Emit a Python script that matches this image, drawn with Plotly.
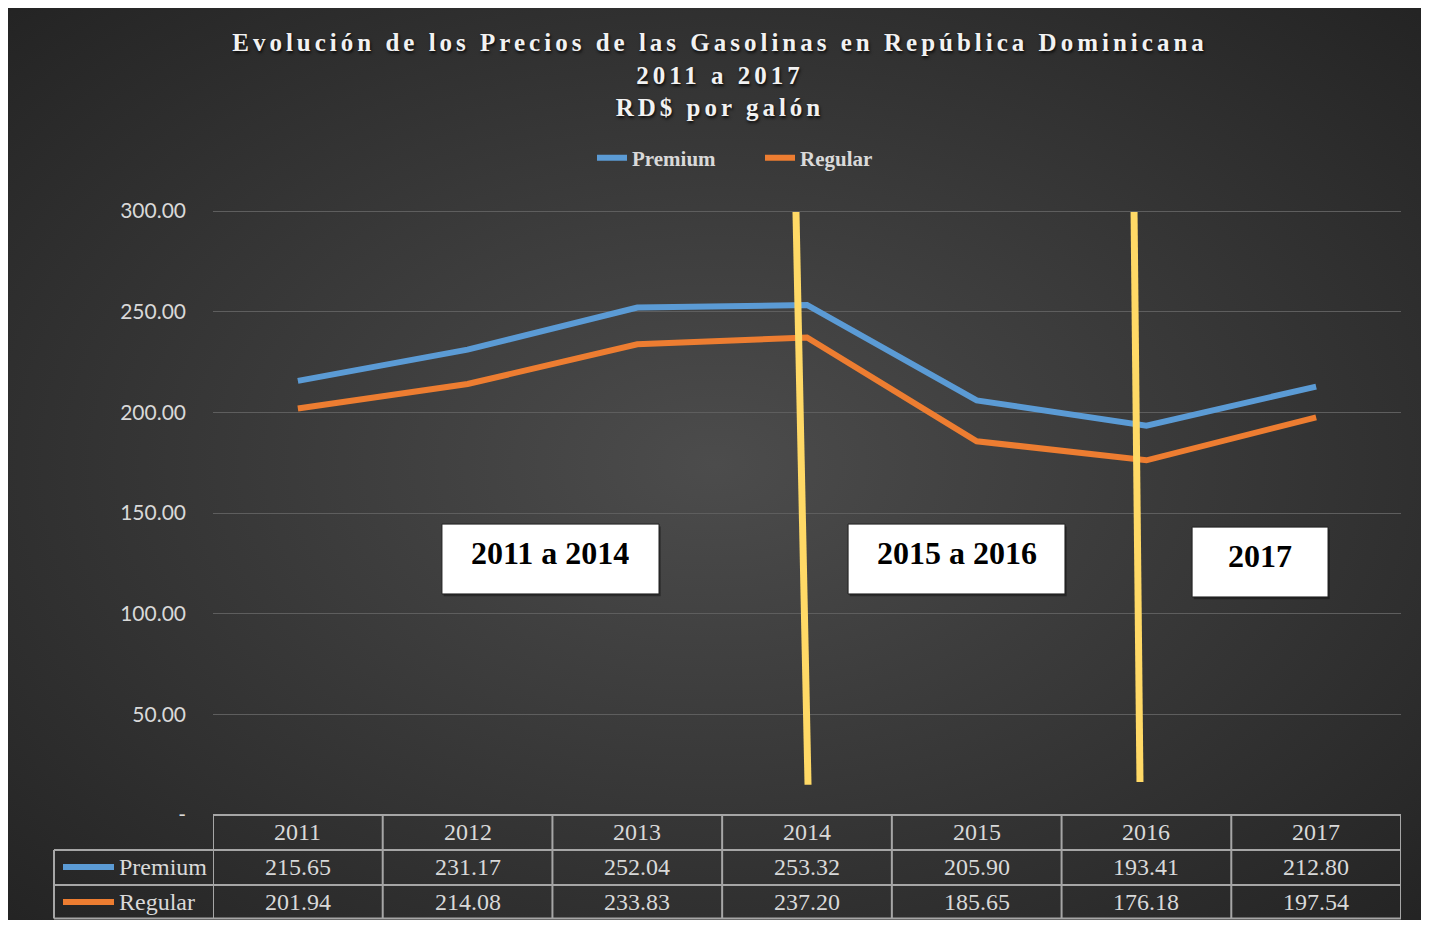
import base64
import plotly.graph_objects as go

years = ["2011", "2012", "2013", "2014", "2015", "2016", "2017"]
premium = [215.65, 231.17, 252.04, 253.32, 205.90, 193.41, 212.80]
regular = [201.94, 214.08, 233.83, 237.20, 185.65, 176.18, 197.54]
series_names = ["Premium", "Regular"]
series_colors = ["#5b9bd5", "#ed7d31"]
y_ticks = [0, 50, 100, 150, 200, 250, 300]
y_ticktext = ["-", "50.00", "100.00", "150.00", "200.00", "250.00", "300.00"]
period_labels = ["2011 a 2014", "2015 a 2016", "2017"]
title_lines = ["Evolución de los Precios de las Gasolinas en República Dominicana",
               "2011 a 2017", "RD$ por galón"]

# the page body adds an 8px margin, so the figure is kept inside the window
FW, FH = 1413, 912
X0, X1 = 213, 1401      # plot area, window pixels
Y_TOP, Y_BOT = 210, 815


def sx(x):
    return (x - 8) / FW


def sy(y):
    return 1 - (y - 8) / FH


def fmt(v):
    return f"{v:.2f}"


fig = go.Figure()
for name, vals, col in zip(series_names, [premium, regular], series_colors):
    fig.add_trace(go.Scatter(x=years, y=vals, name=name, mode="lines",
                             line=dict(color=col, width=6)))

# background with radial gradient
svg = ('<svg xmlns="http://www.w3.org/2000/svg" width="1413" height="912" '
       'viewBox="0 0 1413 912" preserveAspectRatio="none"><defs>'
       '<radialGradient id="g" cx="50%" cy="50%" r="72%">'
       '<stop offset="0" stop-color="#4c4c4c"/>'
       '<stop offset="1" stop-color="#232323"/></radialGradient></defs>'
       '<rect width="1413" height="912" fill="url(#g)"/></svg>')
bg = "data:image/svg+xml;base64," + base64.b64encode(svg.encode()).decode()

shapes = []
annotations = []

# yellow dividers
for (xa, ya, xb, yb) in [(2.935, 299.5, 3.006, 15), (4.927, 299.5, 4.962, 16.4)]:
    shapes.append(dict(type="line", xref="x", yref="y", x0=xa, y0=ya,
                       x1=xb, y1=yb, line=dict(color="#ffd966", width=7)))

# period boxes
boxes = [(0.849, 2.128, 144.5, 109.8), (3.242, 4.520, 144.5, 109.8),
         (5.269, 6.070, 143.0, 108.3)]
for lab, (bx0, bx1, by0, by1) in zip(period_labels, boxes):
    shapes.append(dict(type="rect", xref="x", yref="y", x0=bx0 + 0.01,
                       x1=bx1 + 0.01, y0=by0 - 1.2, y1=by1 - 1.2,
                       fillcolor="rgba(0,0,0,0.35)", line=dict(width=0)))
    shapes.append(dict(type="rect", xref="x", yref="y", x0=bx0, x1=bx1,
                       y0=by0, y1=by1, fillcolor="white",
                       line=dict(color="#1f1f1f", width=1)))
    annotations.append(dict(xref="x", yref="y", x=(bx0 + bx1) / 2,
                            y=by0 - 14.5, text=lab, showarrow=False,
                            xanchor="center", yanchor="middle",
                            font=dict(family="Liberation Serif", size=32,
                                      color="black", weight="bold")))

# data table
grid = dict(color="#a6a6a6", width=2)
shapes.append(dict(type="line", xref="paper", yref="paper", x0=sx(X0),
                   x1=sx(X1), y0=sy(815), y1=sy(815), line=grid))
for yy in [850, 885, 918.5]:
    shapes.append(dict(type="line", xref="paper", yref="paper", x0=sx(54),
                       x1=sx(X1), y0=sy(yy), y1=sy(yy), line=grid))
shapes.append(dict(type="line", xref="paper", yref="paper", x0=sx(54),
                   x1=sx(54), y0=sy(850), y1=sy(918.5), line=grid))
for i in range(len(years) + 1):
    shapes.append(dict(type="line", xref="x", yref="paper", x0=i - 0.5,
                       x1=i - 0.5, y0=sy(815), y1=sy(918.5), line=grid))

cell_font = dict(family="Liberation Serif", size=24, color="#d9d9d9")
for i, yr in enumerate(years):
    annotations.append(dict(xref="x", yref="paper", x=i, y=sy(832), text=yr,
                            showarrow=False, xanchor="center",
                            yanchor="middle", font=cell_font))
for row_y, vals in zip([867, 902], [premium, regular]):
    for i, v in enumerate(vals):
        annotations.append(dict(xref="x", yref="paper", x=i, y=sy(row_y),
                                text=fmt(v), showarrow=False,
                                xanchor="center", yanchor="middle",
                                font=cell_font))
for row_y, name, col in zip([867, 902], series_names, series_colors):
    shapes.append(dict(type="line", xref="paper", yref="paper", x0=sx(63),
                       x1=sx(114), y0=sy(row_y), y1=sy(row_y),
                       line=dict(color=col, width=6)))
    annotations.append(dict(xref="paper", yref="paper", x=sx(117),
                            y=sy(row_y), xanchor="left", yanchor="middle",
                            text=name, showarrow=False, font=cell_font))

title_text = "<br>".join(
    f'<span style="letter-spacing:4px">{t}</span>' for t in title_lines)

fig.update_layout(
    width=FW, height=FH,
    margin=dict(l=0, r=0, t=0, b=0, autoexpand=False),
    paper_bgcolor="#2a2a2a",
    plot_bgcolor="rgba(0,0,0,0)",
    images=[dict(source=bg, xref="paper", yref="paper", x=0, y=1,
                 sizex=1, sizey=1, xanchor="left", yanchor="top",
                 sizing="stretch", layer="below")],
    title=dict(
        text=title_text,
        x=sx(720), xanchor="center", y=sy(51), yanchor="top",
        font=dict(family="Liberation Serif", size=25, color="#f2f2f2",
                  weight="bold", shadow="1px 2px 3px rgba(0,0,0,0.8)")),
    legend=dict(orientation="h", x=sx(760), xanchor="center", y=sy(158),
                yanchor="middle", bgcolor="rgba(0,0,0,0)",
                entrywidth=123, entrywidthmode="pixels",
                font=dict(family="Liberation Serif", size=21,
                          color="#d9d9d9", weight="bold")),
    xaxis=dict(domain=[sx(X0), sx(X1)], range=[-0.5, 6.5],
               showticklabels=False, showgrid=False, zeroline=False,
               fixedrange=True, automargin=False),
    yaxis=dict(domain=[sy(Y_BOT), sy(Y_TOP)], range=[0, 300.5],
               tickvals=y_ticks, ticktext=y_ticktext, showgrid=True,
               gridcolor="#5e5e5e", gridwidth=1, zeroline=False,
               ticklabelstandoff=26, automargin=False,
               tickfont=dict(family="Lato", size=21, color="#d9d9d9")),
    shapes=shapes,
    annotations=annotations,
)

fig.write_html("out.html")
